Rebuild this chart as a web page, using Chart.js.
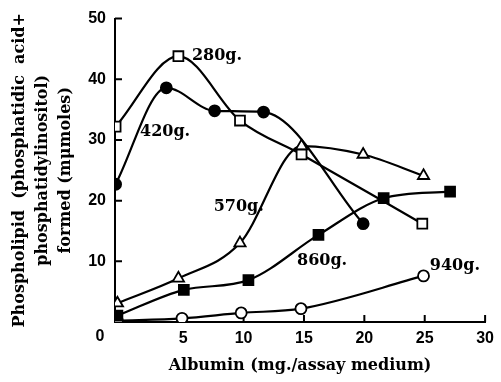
<!DOCTYPE html>
<html lang="en">
<head>
    <meta charset="UTF-8">
    <title>Phospholipid formed vs albumin</title>
    <script src="https://cdn.jsdelivr.net/npm/chart.js"></script>
    <style>
        html, body {
            margin: 0;
            padding: 0;
            background-color: #fff;
        }
        .chart-box {
            width: 501px;
            height: 382px;
            position: relative;
        }
    </style>
</head>
<body>
    <div class="chart-box">
        <canvas id="albuminChart"></canvas>
    </div>

    <script>
        // tick values
        const xTicks = [5, 10, 15, 20, 25, 30];
        const yTicks = [10, 20, 30, 40, 50];

        // series (albumin mg, phospholipid mumoles)
        const seriesNames = ['280g.', '420g.', '570g.', '860g.', '940g.'];

        const x280 = [-0.6, 4.6, 9.7, 14.8, 24.8];
        const y280 = [32.2, 43.8, 33.2, 27.6, 16.2];

        const x420 = [-0.6, 3.6, 7.6, 11.65, 19.9];
        const y420 = [22.7, 38.6, 34.8, 34.6, 16.2];

        const x570 = [-0.45, 4.6, 9.7, 14.8, 19.9, 24.9];
        const y570 = [3.1, 7.2, 13.0, 29.0, 27.6, 24.1];

        const x860 = [-0.45, 5.05, 10.4, 16.2, 21.6, 27.1];
        const y860 = [1.05, 5.3, 6.9, 14.35, 20.4, 21.5];

        const x940 = [-0.45, 4.9, 9.8, 14.75, 24.9];
        const y940 = [0.2, 0.6, 1.5, 2.2, 7.6];

        // where each series name is written (data units)
        const labelX = [7.8, 3.5, 9.6, 16.5, 27.5];
        const labelY = [43.9, 31.4, 18.9, 10.0, 9.2];

        const serif = 'DejaVu Serif';

        function toPoints(xs, ys) {
            return xs.map((v, i) => ({ x: v, y: ys[i] }));
        }

        function makeSet(name, xs, ys, style, filled, radius) {
            return {
                label: name,
                data: toPoints(xs, ys),
                borderColor: '#000',
                borderWidth: 2.2,
                cubicInterpolationMode: 'monotone',
                pointStyle: style,
                pointRadius: radius,
                pointBackgroundColor: filled ? '#000' : '#fff',
                pointBorderColor: '#000',
                pointBorderWidth: 1.8
            };
        }

        const axisMarks = {
            id: 'axisMarks',
            beforeDatasetsDraw(chart) {
                const { ctx, scales: { x, y } } = chart;
                ctx.save();
                ctx.strokeStyle = '#000';
                ctx.lineWidth = 2;
                ctx.beginPath();
                xTicks.forEach(v => {
                    const px = x.getPixelForValue(v);
                    ctx.moveTo(px, y.bottom);
                    ctx.lineTo(px, y.bottom - 7);
                });
                yTicks.forEach(v => {
                    const py = y.getPixelForValue(v);
                    ctx.moveTo(x.left, py);
                    ctx.lineTo(x.left + 7, py);
                });
                ctx.stroke();
                // the corner zero
                ctx.fillStyle = '#000';
                ctx.font = 'bold 16px "Liberation Sans"';
                ctx.textAlign = 'center';
                ctx.textBaseline = 'middle';
                ctx.fillText('0', x.left - 15, y.bottom + 15);
                ctx.restore();
            },
            afterDatasetsDraw(chart) {
                const { ctx, scales: { x, y } } = chart;
                ctx.save();
                ctx.fillStyle = '#000';
                ctx.font = 'bold 16px "' + serif + '"';
                ctx.textAlign = 'center';
                ctx.textBaseline = 'middle';
                seriesNames.forEach((name, i) => {
                    ctx.fillText(name, x.getPixelForValue(labelX[i]), y.getPixelForValue(labelY[i]));
                });
                ctx.restore();
            }
        };

        const tickFont = { family: 'Liberation Sans', weight: 'bold', size: 16 };

        new Chart(document.getElementById('albuminChart'), {
            type: 'line',
            data: {
                datasets: [
                    makeSet(seriesNames[0], x280, y280, 'rect', false, 7),
                    makeSet(seriesNames[1], x420, y420, 'circle', true, 5.5),
                    makeSet(seriesNames[2], x570, y570, 'triangle', false, 6.5),
                    makeSet(seriesNames[3], x860, y860, 'rect', true, 7),
                    makeSet(seriesNames[4], x940, y940, 'circle', false, 5.5)
                ]
            },
            options: {
                responsive: true,
                maintainAspectRatio: false,
                animation: false,
                devicePixelRatio: 1,
                layout: { padding: { left: 8, right: 10, top: 13, bottom: 4 } },
                plugins: {
                    legend: { display: false },
                    tooltip: { enabled: false }
                },
                scales: {
                    x: {
                        type: 'linear',
                        min: -0.65,
                        max: 30,
                        afterBuildTicks: s => { s.ticks = xTicks.map(v => ({ value: v })); },
                        afterFit: s => { s.height = 56; },
                        grid: { drawOnChartArea: false, drawTicks: false },
                        border: { display: true, color: '#000', width: 2 },
                        ticks: { color: '#000', font: tickFont, padding: 7, maxRotation: 0, autoSkip: false },
                        title: {
                            display: true,
                            text: 'Albumin (mg./assay medium)',
                            color: '#000',
                            font: { family: serif, weight: 'bold', size: 16 },
                            padding: { top: 0, bottom: 3 }
                        }
                    },
                    y: {
                        min: 0,
                        max: 50,
                        afterBuildTicks: s => { s.ticks = yTicks.map(v => ({ value: v })); },
                        afterFit: s => { s.width = 107; },
                        grid: { drawOnChartArea: false, drawTicks: false },
                        border: { display: true, color: '#000', width: 2 },
                        ticks: { color: '#000', font: tickFont, padding: 9 },
                        title: {
                            display: true,
                            text: ['Phospholipid  (phosphatidic  acid+', 'phosphatidylinositol)', 'formed (m\u03bcmoles)'],
                            color: '#000',
                            font: { family: serif, weight: 'bold', size: 16, lineHeight: 23 / 16 },
                            padding: 0
                        }
                    }
                }
            },
            plugins: [axisMarks]
        });
    </script>
</body>
</html>
